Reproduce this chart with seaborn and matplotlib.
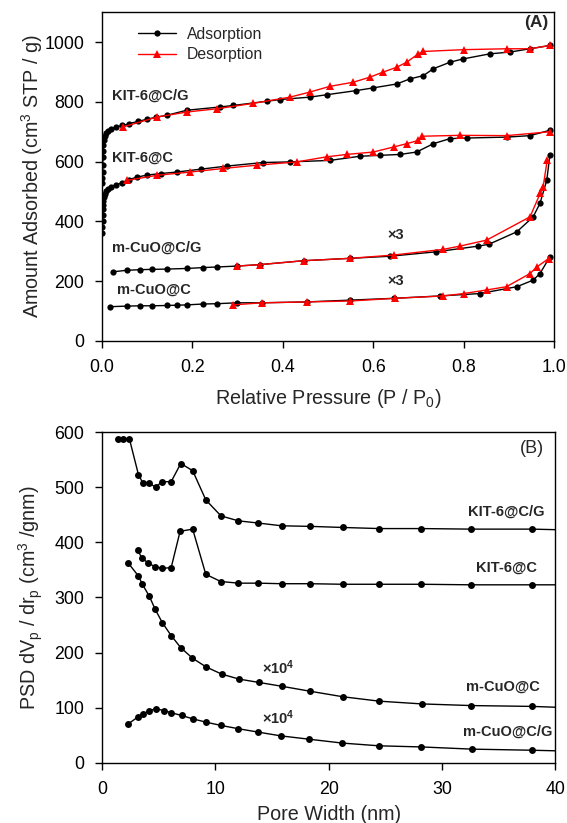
import numpy as np
import pandas as pd
import matplotlib
matplotlib.use("Agg")
import matplotlib.pyplot as plt
import seaborn as sns

sns.set_theme(style="ticks")
plt.rcParams['font.family'] = ['Liberation Sans', 'DejaVu Sans']
plt.rcParams['mathtext.fontset'] = 'custom'
plt.rcParams['mathtext.rm'] = 'Liberation Sans'
plt.rcParams['mathtext.it'] = 'Liberation Sans'
plt.rcParams['mathtext.bf'] = 'Liberation Sans:bold'

# ---------------- Panel A: isotherms ----------------
kcg_ads_x = [0.0003, 0.0006, 0.001, 0.0015, 0.002, 0.0025, 0.003, 0.004, 0.006, 0.009, 0.014, 0.02,
             0.03, 0.045, 0.06, 0.08, 0.1, 0.12, 0.143, 0.187, 0.261, 0.29, 0.364, 0.394, 0.46, 0.497,
             0.563, 0.60, 0.652, 0.681, 0.711, 0.733, 0.77, 0.799, 0.858, 0.903, 0.947, 0.991]
kcg_ads_y = [527, 545, 565, 590, 615, 635, 655, 672, 685, 695, 703, 709,
             715, 721, 727, 735, 742, 749, 755, 772, 783, 788, 802, 808, 816, 824,
             838, 847, 860, 877, 888, 911, 933, 944, 961, 967, 978, 989]
kcg_des_x = [0.991, 0.947, 0.895, 0.80, 0.711, 0.70, 0.674, 0.652, 0.622, 0.593, 0.556, 0.504,
             0.46, 0.416, 0.334, 0.254, 0.187, 0.121, 0.046]
kcg_des_y = [989, 978, 978, 975, 969, 961, 933, 916, 900, 883, 866, 852,
             833, 816, 795, 777, 766, 749, 716]

kc_ads_x = [0.0003, 0.0006, 0.001, 0.0015, 0.002, 0.0025, 0.003, 0.004, 0.006, 0.009, 0.014, 0.02,
            0.03, 0.045, 0.06, 0.077, 0.1, 0.13, 0.165, 0.22, 0.276, 0.357, 0.416, 0.504, 0.571,
            0.615, 0.659, 0.696, 0.733, 0.77, 0.807, 0.895, 0.947, 0.991]
kc_ads_y = [362, 380, 400, 420, 440, 455, 468, 480, 490, 500, 508, 514,
            521, 530, 540, 548, 555, 560, 565, 575, 585, 597, 599, 604, 618,
            621, 624, 632, 660, 677, 679, 682, 687, 705]
kc_des_x = [0.991, 0.895, 0.792, 0.707, 0.70, 0.674, 0.645, 0.60, 0.541, 0.497, 0.431, 0.342,
            0.268, 0.195, 0.121, 0.055]
kc_des_y = [700, 687, 688, 685, 671, 660, 649, 632, 624, 616, 599, 588,
            577, 565, 554, 537]

cg_ads_x = [0.025, 0.055, 0.085, 0.11, 0.143, 0.187, 0.224, 0.254, 0.298, 0.35, 0.446, 0.549,
            0.637, 0.74, 0.833, 0.856, 0.918, 0.954, 0.969, 0.984, 0.991]
cg_ads_y = [231, 236, 238, 239, 240, 242, 245, 247, 250, 255, 268, 276,
            283, 298, 317, 323, 365, 415, 460, 537, 621]
cg_des_x = [0.985, 0.976, 0.97, 0.947, 0.851, 0.792, 0.755, 0.645, 0.549, 0.446, 0.35, 0.298]
cg_des_y = [604, 515, 495, 415, 337, 317, 306, 287, 276, 268, 255, 250]

c_ads_x = [0.018, 0.055, 0.085, 0.11, 0.143, 0.165, 0.187, 0.224, 0.254, 0.298, 0.353, 0.453,
           0.549, 0.645, 0.748, 0.836, 0.918, 0.954, 0.969, 0.991]
c_ads_y = [114, 116, 117, 117, 118, 119, 120, 123, 124, 127, 127, 130,
           136, 142, 150, 158, 181, 203, 225, 281]
c_des_x = [0.988, 0.962, 0.947, 0.895, 0.851, 0.80, 0.755, 0.648, 0.549, 0.453, 0.353, 0.29]
c_des_y = [275, 247, 225, 181, 170, 158, 150, 142, 133, 130, 127, 120]

# ---------------- Panel B: PSD ----------------
psd_kcg_x = [1.44, 1.89, 2.41, 3.21, 3.59, 4.18, 4.74, 5.27, 6.1, 6.95, 8.0, 9.16, 10.5, 12.04,
             13.8, 15.87, 18.37, 21.26, 24.47, 28.18, 32.6, 37.96, 40.0]
psd_kcg_y = [588, 588, 588, 523, 508, 507, 500, 510, 510, 543, 530, 477, 448, 439,
             435, 430, 429, 427, 425, 425, 424, 424, 423]
psd_kc_x = [3.15, 3.5, 4.09, 4.68, 5.27, 6.1, 6.89, 8.0, 9.16, 10.48, 12.04, 13.8, 15.87, 18.37,
            21.26, 24.47, 28.18, 32.6, 37.96, 40.0]
psd_kc_y = [386, 372, 362, 356, 353, 354, 420, 424, 342, 329, 326, 326, 325, 325,
            324, 324, 324, 323, 323, 323]
psd_c_x = [2.33, 3.21, 3.56, 4.18, 4.68, 5.33, 6.1, 6.95, 7.98, 9.19, 10.57, 12.1, 13.84, 15.87,
           18.37, 21.26, 24.47, 28.24, 32.6, 37.96, 40.0]
psd_c_y = [362, 339, 324, 302, 279, 254, 231, 209, 190, 174, 161, 152, 146, 139,
           130, 120, 112, 107, 104, 102.5, 101]
psd_cg_x = [2.33, 3.21, 3.65, 4.18, 4.74, 5.48, 6.1, 7.04, 8.0, 9.16, 10.5, 12.04, 13.75, 15.8,
            18.29, 21.2, 24.47, 28.18, 32.66, 37.96, 40.0]
psd_cg_y = [71, 84, 89, 95, 98, 95, 91, 86, 80, 74, 68, 62, 56, 49,
            43, 36, 31, 29, 25, 23, 22]

fig = plt.figure(figsize=(5.67, 8.23), dpi=100)
axA = fig.add_axes([0.180, 0.586, 0.797, 0.399])
axB = fig.add_axes([0.180, 0.073, 0.799, 0.402])

tick_fs = 12.8
lab_fs = 14.2
ann_fs = 10.5

ads_kw = dict(color='black', marker='o', markersize=4.5, markeredgewidth=0, linewidth=1.0)
des_kw = dict(color='#ff0000', marker='^', markersize=5.5, markeredgewidth=0, linewidth=1.0)

first = True
for ax_x, ax_y, dx, dy in [(kcg_ads_x, kcg_ads_y, kcg_des_x, kcg_des_y),
                           (kc_ads_x, kc_ads_y, kc_des_x, kc_des_y),
                           (cg_ads_x, cg_ads_y, cg_des_x, cg_des_y),
                           (c_ads_x, c_ads_y, c_des_x, c_des_y)]:
    sns.lineplot(x=ax_x, y=ax_y, ax=axA, sort=False, label='Adsorption' if first else None, **ads_kw)
    sns.lineplot(x=dx, y=dy, ax=axA, sort=False, label='Desorption' if first else None, **des_kw)
    first = False

axA.set_xlim(0, 1.0)
axA.set_ylim(0, 1100)
axA.set_xticks(np.arange(0, 1.01, 0.2))
axA.set_xticklabels([f"{v:.1f}" for v in np.arange(0, 1.01, 0.2)])
axA.set_yticks(np.arange(0, 1001, 200))
axA.set_xlabel("Relative Pressure (P / P$_0$)", fontsize=lab_fs, labelpad=8)
axA.set_ylabel("Amount Adsorbed (cm$^3$ STP / g)", fontsize=lab_fs)
axA.legend(loc='upper left', bbox_to_anchor=(0.055, 0.99), frameon=False, fontsize=11.3,
           handlelength=2.4, handletextpad=0.7, labelspacing=0.35, borderaxespad=0.3)

axA.text(0.022, 822, "KIT-6@C/G", fontsize=ann_fs, fontweight='bold', va='center', ha='left')
axA.text(0.022, 614, "KIT-6@C", fontsize=ann_fs, fontweight='bold', va='center', ha='left')
axA.text(0.022, 310, "m-CuO@C/G", fontsize=ann_fs, fontweight='bold', va='center', ha='left')
axA.text(0.033, 170, "m-CuO@C", fontsize=ann_fs, fontweight='bold', va='center', ha='left')
axA.text(0.65, 353, "×3", fontsize=ann_fs, fontweight='bold', va='center', ha='center')
axA.text(0.65, 200, "×3", fontsize=ann_fs, fontweight='bold', va='center', ha='center')
axA.text(0.988, 1066, "(A)", fontsize=12.5, fontweight='bold', va='center', ha='right')

psd_kw = dict(color='black', marker='o', markersize=5, markeredgewidth=0, linewidth=1.0)
for px, py in [(psd_kcg_x, psd_kcg_y), (psd_kc_x, psd_kc_y), (psd_c_x, psd_c_y), (psd_cg_x, psd_cg_y)]:
    n = len(px)
    sns.lineplot(x=px, y=py, ax=axB, sort=False, markevery=list(range(n - 1)), **psd_kw)

axB.set_xlim(0, 40)
axB.set_ylim(0, 600)
axB.set_xticks(np.arange(0, 41, 10))
axB.set_yticks(np.arange(0, 601, 100))
axB.set_xlabel("Pore Width (nm)", fontsize=lab_fs, labelpad=5)
axB.set_ylabel("PSD dV$_\\mathrm{p}$ / dr$_\\mathrm{p}$ (cm$^3$ /gnm)", fontsize=lab_fs)

axB.text(39.0, 571, "(B)", fontsize=13, va='center', ha='right')
axB.text(39.1, 455, "KIT-6@C/G", fontsize=ann_fs, fontweight='bold', va='center', ha='right')
axB.text(38.4, 354, "KIT-6@C", fontsize=ann_fs, fontweight='bold', va='center', ha='right')
axB.text(38.7, 138, "m-CuO@C", fontsize=ann_fs, fontweight='bold', va='center', ha='right')
axB.text(39.75, 57, "m-CuO@C/G", fontsize=ann_fs, fontweight='bold', va='center', ha='right')
axB.text(14.1, 173, "×10$^{\\mathbf{4}}$", fontsize=ann_fs, fontweight='bold', va='center', ha='left')
axB.text(14.1, 82, "×10$^{\\mathbf{4}}$", fontsize=ann_fs, fontweight='bold', va='center', ha='left')

for ax in (axA, axB):
    for s in ax.spines.values():
        s.set_visible(True)
        s.set_color('black')
        s.set_linewidth(1.0)
    ax.tick_params(axis='both', direction='out', length=5, width=1.0, labelsize=tick_fs,
                   colors='black', top=False, right=False, pad=8)
    ax.set_facecolor('white')

axA.yaxis.set_label_coords(-0.127, 0.5)
axB.yaxis.set_label_coords(-0.127, 0.5)

fig.savefig("out.png", dpi=100, facecolor='white')
